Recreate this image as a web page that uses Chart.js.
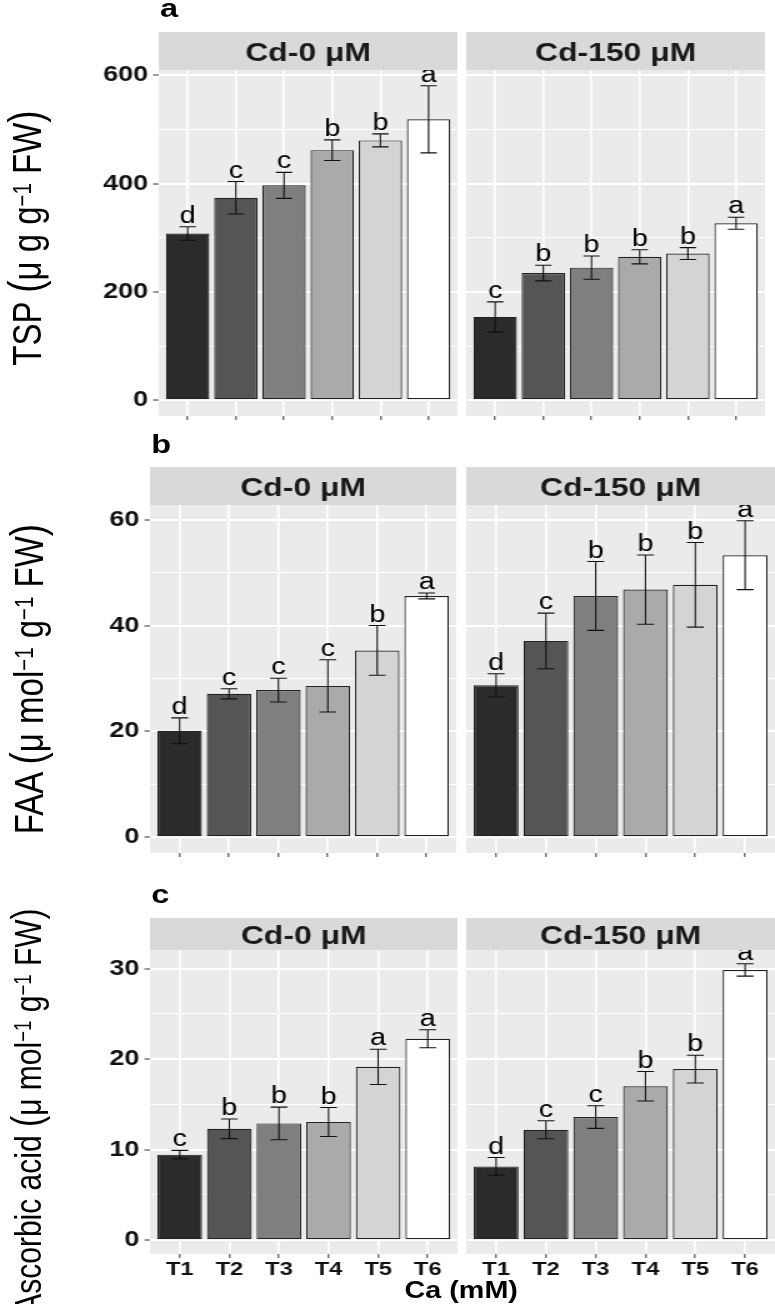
<!DOCTYPE html>
<html>
<head>
<meta charset="utf-8">
<script src="https://cdn.jsdelivr.net/npm/chart.js@4.4.1/dist/chart.umd.min.js"></script>
<style>
  html, body { margin: 0; padding: 0; background: #fff; overflow: hidden; }
  body { width: 775px; height: 1304px; position: relative; }
  /* the source figure is stretched sideways, so the whole stage is too */
  #stage { position: absolute; left: 0; top: 0; width: 620px; height: 1304px;
           transform: scaleX(1.25); transform-origin: 0 0;
           font-family: "Liberation Sans", Arial, Helvetica, sans-serif; color: #000; }
  .panel { position: absolute; }
  .panel canvas { display: block; }
  .tag { position: absolute; font-weight: bold; font-size: 26px; line-height: 26px; }
  .ytitle { position: absolute; font-size: 33px; line-height: 33px; white-space: nowrap;
            transform: translate(-50%, -50%) rotate(-90deg); }
  .ytitle sup { font-size: 0.62em; position: relative; top: -0.15em; vertical-align: top; }
  .par { font-size: 1.12em; }
  .xtitle { position: absolute; font-weight: bold; font-size: 23px; line-height: 23px;
            transform: translateX(-50%); white-space: nowrap; }
</style>
</head>
<body>
<div id="stage">
  <div class="tag" style="left:128px; top:-5px;">a</div>
  <div class="tag" style="left:121px; top:431px;">b</div>
  <div class="tag" style="left:121px; top:881px;">c</div>

  <div class="ytitle" style="left:21px; top:238px;">TSP <span class="par">(</span>μ g g<sup>−1</sup> FW<span class="par">)</span></div>
  <div class="ytitle" style="left:22px; top:679px;">FAA <span class="par">(</span>μ mol<sup>−1</sup> g<sup>−1</sup> FW<span class="par">)</span></div>
  <div class="ytitle" style="left:22px; top:1111px; font-size:30px; line-height:30px;">Ascorbic acid <span class="par">(</span>μ mol<sup>−1</sup> g<sup>−1</sup> FW<span class="par">)</span></div>

  <div class="xtitle" style="left:369px; top:1279px;">Ca (mM)</div>
</div>

<script>
// 데이터
const categories = ['T1', 'T2', 'T3', 'T4', 'T5', 'T6'];
const facetLabels = ['Cd-0 μM', 'Cd-150 μM'];
const barFills = ['#2B2B2B', '#555555', '#7F7F7F', '#AAAAAA', '#D4D4D4', '#FFFFFF'];

// a: TSP
const tspCd0 = [308, 374, 397, 462, 480, 519];
const tspCd0Se = [12.5, 30, 24, 19, 12, 62];
const tspCd0Letters = ['d', 'c', 'c', 'b', 'b', 'a'];
const tspCd150 = [154, 235, 245, 265, 271, 327];
const tspCd150Se = [27.7, 14.5, 21.5, 13, 11, 11];
const tspCd150Letters = ['c', 'b', 'b', 'b', 'b', 'a'];
const tspTicks = [0, 200, 400, 600];

// b: FAA
const faaCd0 = [20.1, 27.1, 27.8, 28.6, 35.3, 45.6];
const faaCd0Se = [2.45, 0.95, 2.25, 4.95, 4.7, 0.55];
const faaCd0Letters = ['d', 'c', 'c', 'c', 'b', 'a'];
const faaCd150 = [28.7, 37.1, 45.6, 46.8, 47.7, 53.3];
const faaCd150Se = [2.2, 5.25, 6.5, 6.55, 8.0, 6.5];
const faaCd150Letters = ['d', 'c', 'b', 'b', 'b', 'a'];
const faaTicks = [0, 20, 40, 60];

// c: Ascorbic acid
const ascCd0 = [9.45, 12.3, 12.9, 13.05, 19.15, 22.25];
const ascCd0Se = [0.47, 1.08, 1.8, 1.6, 1.95, 1.0];
const ascCd0Letters = ['c', 'b', 'b', 'b', 'a', 'a'];
const ascCd150 = [8.15, 12.2, 13.6, 17.0, 18.9, 29.85];
const ascCd150Se = [0.98, 1.0, 1.25, 1.63, 1.53, 0.68];
const ascCd150Letters = ['d', 'c', 'c', 'b', 'b', 'a'];
const ascTicks = [0, 10, 20, 30];

const family = '"Liberation Sans", Arial, Helvetica, sans-serif';
Chart.defaults.font.family = family;

// ggplot 식 5% 확장
function yLimits(pairs) {
    let hi = 0, lo = 0;
    pairs.forEach(([vals, se]) => vals.forEach((v, i) => {
        hi = Math.max(hi, v + se[i]);
        lo = Math.min(lo, v - se[i]);
    }));
    const pad = (hi - lo) * 0.05;
    return [lo - pad, hi + pad];
}

// 패널 배경, 스트립, 오차막대, 문자 표시
function facetPlugin(p) {
    return {
        id: 'facet',
        beforeDraw(chart) {
            const { ctx, chartArea: a } = chart;
            ctx.save();
            ctx.fillStyle = '#EBEBEB';
            ctx.fillRect(a.left, a.top, a.right - a.left, a.bottom - a.top);
            ctx.fillStyle = '#D9D9D9';
            ctx.fillRect(a.left, a.top - p.stripH, a.right - a.left, p.stripH);
            ctx.fillStyle = '#1A1A1A';
            ctx.font = 'bold 25.5px ' + family;
            ctx.textAlign = 'center';
            ctx.textBaseline = 'alphabetic';
            ctx.fillText(p.strip, (a.left + a.right) / 2, a.top - p.stripH / 2 + 10);
            ctx.restore();
        },
        afterDatasetsDraw(chart) {
            const { ctx, chartArea: a, scales: { x, y } } = chart;
            const cap = (x.getPixelForValue(1) - x.getPixelForValue(0)) * 0.17;
            ctx.save();
            ctx.beginPath();
            ctx.rect(a.left, a.top, a.right - a.left, a.bottom - a.top);
            ctx.clip();
            ctx.strokeStyle = '#111';
            ctx.lineWidth = 1.1;
            ctx.fillStyle = '#000';
            ctx.font = '23px ' + family;
            ctx.textAlign = 'center';
            ctx.textBaseline = 'alphabetic';
            p.values.forEach((v, i) => {
                const px = x.getPixelForValue(i);
                const top = y.getPixelForValue(v + p.se[i]);
                const bot = y.getPixelForValue(v - p.se[i]);
                ctx.beginPath();
                ctx.moveTo(px, top); ctx.lineTo(px, bot);
                ctx.moveTo(px - cap, top); ctx.lineTo(px + cap, top);
                ctx.moveTo(px - cap, bot); ctx.lineTo(px + cap, bot);
                ctx.stroke();
                ctx.fillText(p.letters[i], px, top - 4);
            });
            ctx.restore();
        }
    };
}

function makePanel(p) {
    const wrap = document.createElement('div');
    wrap.className = 'panel';
    wrap.style.left = p.left + 'px';
    wrap.style.top = p.top + 'px';
    const canvas = document.createElement('canvas');
    canvas.width = p.w;
    canvas.height = p.h;
    wrap.appendChild(canvas);
    document.getElementById('stage').appendChild(wrap);

    // 주 눈금 사이의 보조 격자선
    const minors = p.ticks.slice(1).map((t, i) => (t + p.ticks[i]) / 2);
    const allTicks = p.ticks.concat(minors).sort((m, n) => m - n);
    const isMajor = v => p.ticks.includes(v);

    new Chart(canvas, {
        type: 'bar',
        data: {
            datasets: [{
                data: p.values.map((v, i) => ({ x: i, y: v })),
                backgroundColor: barFills,
                borderColor: '#222',
                borderWidth: 1.2,
                borderSkipped: false,
                barPercentage: 0.9,
                categoryPercentage: 1
            }]
        },
        options: {
            responsive: false,
            animation: false,
            devicePixelRatio: 1,
            layout: { padding: { top: p.stripH, left: 0, right: 0, bottom: 0 } },
            plugins: { legend: { display: false }, tooltip: { enabled: false } },
            scales: {
                x: {
                    type: 'linear',
                    offset: false,
                    min: -0.6,
                    max: categories.length - 0.4,
                    afterBuildTicks: s => { s.ticks = categories.map((c, i) => ({ value: i })); },
                    afterFit: s => { s.height = p.xAxisH; s.paddingLeft = 0; s.paddingRight = 0; },
                    ticks: {
                        display: p.showX,
                        callback: v => categories[v],
                        font: { size: 19, weight: 'bold' },
                        color: '#111',
                        padding: 0,
                        autoSkip: false,
                        maxRotation: 0
                    },
                    grid: { offset: false, color: '#FFFFFF', lineWidth: 1.6, tickColor: '#333', tickLength: 4, tickWidth: 1 },
                    border: { display: false }
                },
                y: {
                    min: p.lim[0],
                    max: p.lim[1],
                    afterBuildTicks: s => { s.ticks = allTicks.map(v => ({ value: v })); },
                    afterFit: s => { s.width = p.yAxisW; s.paddingTop = 0; s.paddingBottom = 0; },
                    ticks: {
                        display: p.showY,
                        callback: v => isMajor(v) ? String(v) : '',
                        font: { size: 21.6, weight: 'bold' },
                        color: '#111',
                        padding: 4,
                        autoSkip: false
                    },
                    grid: {
                        color: '#FFFFFF',
                        lineWidth: c => (c.tick && isMajor(c.tick.value)) ? 2 : 1,
                        drawTicks: p.showY,
                        tickColor: c => (c.tick && isMajor(c.tick.value)) ? '#333' : 'rgba(0,0,0,0)',
                        tickLength: 4.5,
                        tickWidth: 1
                    },
                    border: { display: false }
                }
            }
        },
        plugins: [facetPlugin(p)]
    });
}

// 행 배치
const rows = [
    { top: 32, stripH: 38, plotH: 346, xAxisH: 4, showX: false, ticks: tspTicks,
      leftX: 50, yAxisW: 77, leftW: 316, rightX: 373, rightW: 239,
      panels: [[tspCd0, tspCd0Se, tspCd0Letters], [tspCd150, tspCd150Se, tspCd150Letters]] },
    { top: 467, stripH: 38, plotH: 348, xAxisH: 4, showX: false, ticks: faaTicks,
      leftX: 45, yAxisW: 75, leftW: 320, rightX: 373, rightW: 247,
      panels: [[faaCd0, faaCd0Se, faaCd0Letters], [faaCd150, faaCd150Se, faaCd150Letters]] },
    { top: 918, stripH: 32, plotH: 304, xAxisH: 28, showX: true, ticks: ascTicks,
      leftX: 45, yAxisW: 75, leftW: 321, rightX: 373, rightW: 247,
      panels: [[ascCd0, ascCd0Se, ascCd0Letters], [ascCd150, ascCd150Se, ascCd150Letters]] }
];

rows.forEach(r => {
    const lim = yLimits(r.panels.map(pp => [pp[0], pp[1]]));
    const h = r.stripH + r.plotH + r.xAxisH;
    r.panels.forEach((pp, k) => {
        makePanel({
            left: k === 0 ? r.leftX : r.rightX,
            top: r.top,
            w: k === 0 ? r.leftW : r.rightW,
            h: h,
            stripH: r.stripH,
            xAxisH: r.xAxisH,
            yAxisW: k === 0 ? r.yAxisW : 0,
            showY: k === 0,
            showX: r.showX,
            ticks: r.ticks,
            lim: lim,
            strip: facetLabels[k],
            values: pp[0],
            se: pp[1],
            letters: pp[2]
        });
    });
});
</script>
</body>
</html>
